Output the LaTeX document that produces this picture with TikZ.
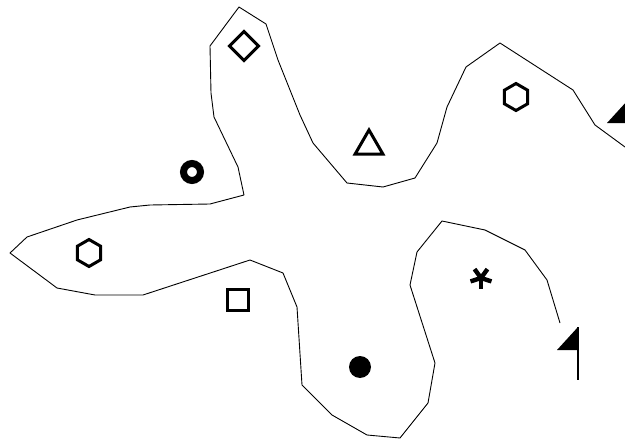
\documentclass[tikz,border=0pt]{standalone}
\usetikzlibrary{shapes.geometric}
\begin{document}
\begin{tikzpicture}[x=1pt,y=-1pt,
  boundary/.style={line width=0.9pt,line join=round},
  sym/.style={draw,line width=3pt,inner sep=0pt,outer sep=0pt},
  flagtri/.style={fill=black},
  flagpole/.style={line width=2.2pt}]
\useasboundingbox (0,0) rectangle (625,439);
\clip (0,0) rectangle (625,439);
% boundary curve
\draw[boundary] (625,147) -- (595,125) -- (573,90) -- (500,43) -- (466,67) -- (447,107)
  -- (437,143) -- (415,178) -- (383,187) -- (347,183) -- (313,143) -- (300,115)
  -- (278,60) -- (266,24) -- (239,7) -- (210,46) -- (211,93) -- (214,117)
  -- (238,167) -- (244,195) -- (210,204) -- (150,205) -- (130,207) -- (77,220)
  -- (27,237) -- (10,253) -- (57,288) -- (95,295) -- (143,295) -- (250,260)
  -- (283,273) -- (297,307) -- (302,385) -- (320,403) -- (332,415) -- (367,435)
  -- (400,438) -- (428,403) -- (435,363) -- (418,310) -- (410,285) -- (417,252)
  -- (442,221) -- (485,230) -- (525,250) -- (547,280) -- (560,323);
% symbols
\node[sym,diamond,minimum width=29pt,minimum height=29pt] (dia) at (244,46) {};
\node[draw,circle,line width=7pt,minimum size=17pt,inner sep=0pt] (ring) at (192,172) {};
\node[sym,regular polygon,regular polygon sides=3,minimum size=32pt] (tri) at (369,146) {};
\node[sym,regular polygon,regular polygon sides=6,regular polygon rotate=30,minimum size=27pt] (hexa) at (516,97) {};
\node[sym,regular polygon,regular polygon sides=6,regular polygon rotate=30,minimum size=27pt] (hexb) at (89,253) {};
\node[sym,rectangle,minimum size=21pt] (sq) at (238,300) {};
\node[fill=black,circle,minimum size=22pt,inner sep=0pt] (dot) at (360,367) {};
\coordinate (ast) at (481,278);
\foreach \a in {90,162,234,306,18}
  \draw[line width=4.4pt] (ast) -- ++(\a:-11pt);
% flags
\coordinate (fla) at (578,327);
\coordinate (flb) at (578,380);
\fill[flagtri] (fla) -- (557,350) -- (578,350) -- cycle;
\draw[flagpole] (fla) -- (flb);
\coordinate (fua) at (628,100);
\fill[flagtri] (fua) -- (607,123) -- (628,123) -- cycle;
\end{tikzpicture}
\end{document}
